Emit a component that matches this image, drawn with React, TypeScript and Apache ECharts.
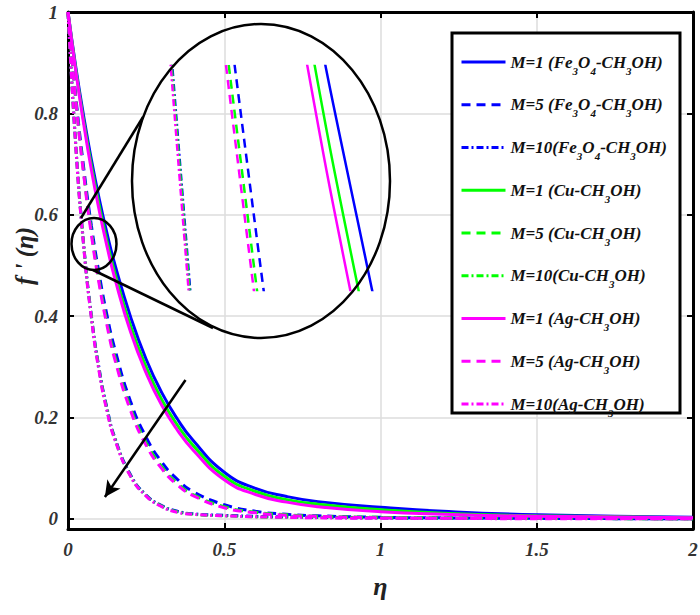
import React, { useEffect, useRef } from "react";
import * as echarts from "echarts";

// similarity variable eta (x axis)
const eta = [0, 0.025, 0.05, 0.075, 0.1, 0.125, 0.15, 0.2, 0.25, 0.3, 0.35, 0.4, 0.5, 0.6, 0.7, 0.8, 1.0, 1.2, 1.5, 2.0];

// f'(eta) values
const feM1 = [1, 0.891, 0.795, 0.708, 0.631, 0.563, 0.502, 0.399, 0.315, 0.249, 0.197, 0.155, 0.092, 0.06, 0.044, 0.034, 0.023, 0.015, 0.008, 0.003];
const feM5 = [1, 0.833, 0.694, 0.578, 0.482, 0.401, 0.335, 0.232, 0.161, 0.112, 0.078, 0.054, 0.028, 0.015, 0.009, 0.006, 0.003, 0.002, 0.001, 0];
const feM10 = [1, 0.737, 0.543, 0.4, 0.295, 0.218, 0.16, 0.087, 0.047, 0.026, 0.015, 0.01, 0.007, 0.005, 0.004, 0.003, 0.002, 0.001, 0.001, 0];
const cuM1 = [1, 0.886, 0.786, 0.697, 0.618, 0.547, 0.485, 0.381, 0.3, 0.235, 0.185, 0.145, 0.084, 0.054, 0.038, 0.029, 0.018, 0.011, 0.006, 0.002];
const cuM5 = [1, 0.827, 0.684, 0.566, 0.468, 0.387, 0.32, 0.219, 0.15, 0.103, 0.07, 0.048, 0.024, 0.013, 0.008, 0.005, 0.003, 0.002, 0.001, 0];
const cuM10 = [1, 0.735, 0.541, 0.398, 0.292, 0.215, 0.158, 0.085, 0.046, 0.025, 0.014, 0.009, 0.006, 0.004, 0.003, 0.003, 0.002, 0.001, 0.001, 0];
const agM1 = [1, 0.883, 0.78, 0.688, 0.608, 0.537, 0.474, 0.369, 0.288, 0.224, 0.175, 0.136, 0.077, 0.048, 0.033, 0.024, 0.014, 0.009, 0.005, 0.002];
const agM5 = [1, 0.824, 0.68, 0.56, 0.462, 0.381, 0.314, 0.214, 0.145, 0.099, 0.067, 0.046, 0.022, 0.012, 0.007, 0.005, 0.002, 0.001, 0.001, 0];
const agM10 = [1, 0.733, 0.538, 0.395, 0.289, 0.212, 0.156, 0.084, 0.045, 0.024, 0.013, 0.009, 0.006, 0.004, 0.003, 0.002, 0.001, 0.001, 0, 0];

const seriesNames = [
  "M=1 (Fe3O4-CH3OH)", "M=5 (Fe3O4-CH3OH)", "M=10(Fe3O4-CH3OH)",
  "M=1 (Cu-CH3OH)", "M=5 (Cu-CH3OH)", "M=10(Cu-CH3OH)",
  "M=1 (Ag-CH3OH)", "M=5 (Ag-CH3OH)", "M=10(Ag-CH3OH)",
];
const seriesValues = [feM1, feM5, feM10, cuM1, cuM5, cuM10, agM1, agM5, agM10];

const yTicks = [0, 0.2, 0.4, 0.6, 0.8, 1];
const yTitle = "f ' (η)";
const xTitle = "η";

// annotation arrow (data coordinates)
const arrowFrom = [0.376, 0.274];
const arrowTo = [0.118, 0.043];
// magnified window (data coordinates)
const insetEta = [0.027, 0.14];
const insetF = [0.545, 0.6];

const COLORS = ["#0000ff", "#00ff00", "#ff00ff"];
const DASHES: any[] = ["solid", [9, 6], [7, 3, 2, 3]];
const FONT = "Liberation Serif";

const richName = (n: string) =>
  n.replace("Fe3O4", "Fe{s|3}O{s|4}").replace("CH3OH", "CH{s|3}OH");

export default function App() {
  const ref = useRef<HTMLDivElement>(null);
  useEffect(() => {
    if (!ref.current) return;
    const chart = echarts.init(ref.current, null, { renderer: "svg" });

    const mkSeries = (inset: boolean) =>
      seriesNames.map((name, i) => {
        const color = COLORS[Math.floor(i / 3)];
        const type = DASHES[i % 3];
        const s: any = {
          name,
          type: "line",
          xAxisIndex: inset ? 2 : 0,
          yAxisIndex: inset ? 2 : 0,
          data: eta.map((x, j) => [x, seriesValues[i][j]]),
          symbol: "none",
          showSymbol: false,
          smooth: 0.5,
          clip: true,
          lineStyle: { color, width: inset ? 2.5 : 3, type },
          itemStyle: { color },
          emphasis: { disabled: true },
          z: 2,
        };
        if (!inset && i === 0) {
          s.markLine = {
            silent: true,
            symbol: ["none", "arrow"],
            symbolSize: [12, 16],
            label: { show: false },
            lineStyle: { color: "#000", width: 2.5, type: "solid" },
            data: [[{ coord: arrowFrom }, { coord: arrowTo }]],
            z: 6,
          };
        }
        return s;
      });

    const axisFont = { fontFamily: FONT, fontWeight: "bold", fontStyle: "italic", fontSize: 19, color: "#333" };

    chart.setOption({
      animation: false,
      backgroundColor: "#fff",
      grid: [
        { left: 68, right: 7, top: 12, bottom: 86, outerBoundsMode: "none", containLabel: false },
        { left: 140, top: 66, width: 250, height: 224, outerBoundsMode: "none", containLabel: false },
      ],
      xAxis: [
        {
          type: "value", gridIndex: 0, min: 0, max: 2, interval: 0.5,
          name: xTitle, nameLocation: "middle", nameGap: 44,
          nameTextStyle: { fontFamily: FONT, fontStyle: "italic", fontWeight: "bold", fontSize: 26, color: "#222" },
          axisLine: { onZero: false, lineStyle: { color: "#000", width: 3 } },
          axisTick: { inside: true, length: 6, lineStyle: { color: "#000", width: 2 } },
          axisLabel: { ...axisFont, margin: 11, formatter: (v: number) => String(v) },
          splitLine: { show: true, lineStyle: { color: "#dcdcdc", width: 1.5 } },
        },
        {
          type: "value", gridIndex: 0, position: "top", min: 0, max: 2, interval: 0.5,
          axisLine: { onZero: false, lineStyle: { color: "#000", width: 3 } },
          axisTick: { inside: true, length: 6, lineStyle: { color: "#000", width: 2 } },
          axisLabel: { show: false },
          splitLine: { show: false },
        },
        { type: "value", gridIndex: 1, min: insetEta[0], max: insetEta[1], show: false },
      ],
      yAxis: [
        {
          type: "value", gridIndex: 0, min: -0.02, max: 1,
          axisLine: { onZero: false, lineStyle: { color: "#000", width: 3 } },
          axisTick: { inside: true, length: 6, customValues: yTicks, lineStyle: { color: "#000", width: 2 } },
          axisLabel: { ...axisFont, margin: 10, customValues: yTicks, formatter: (v: number) => String(v) },
          splitLine: { show: true, lineStyle: { color: "#dcdcdc", width: 1.5 } },
        },
        {
          type: "value", gridIndex: 0, position: "right", min: -0.02, max: 1,
          axisLine: { onZero: false, lineStyle: { color: "#000", width: 3 } },
          axisTick: { inside: true, length: 6, customValues: yTicks, lineStyle: { color: "#000", width: 2 } },
          axisLabel: { show: false, customValues: yTicks },
          splitLine: { show: false },
        },
        { type: "value", gridIndex: 1, min: insetF[0], max: insetF[1], show: false },
      ],
      legend: {
        orient: "vertical",
        left: 455,
        top: 43,
        itemWidth: 44,
        itemHeight: 12,
        itemGap: 14.75,
        selectedMode: false,
        data: seriesNames,
        formatter: (n: string) => richName(n),
        itemStyle: { opacity: 0, color: "transparent", borderWidth: 0 },
        lineStyle: { width: 3 },
        textStyle: {
          fontFamily: FONT, fontWeight: "bold", fontStyle: "italic", fontSize: 17, color: "#111",
          lineHeight: 28,
          rich: {
            s: { fontFamily: FONT, fontWeight: "bold", fontStyle: "italic", fontSize: 11, color: "#111", lineHeight: 10, verticalAlign: "bottom" },
          },
        },
        z: 10,
      },
      graphic: [
        { type: "rect", z: 3, shape: { x: 452, y: 33, width: 228, height: 380 }, style: { fill: "#fff", stroke: "#000", lineWidth: 3 } },
        { type: "ellipse", z: 5, shape: { cx: 261, cy: 181, rx: 129, ry: 157 }, style: { fill: "none", stroke: "#000", lineWidth: 2.5 } },
        { type: "ellipse", z: 5, shape: { cx: 94, cy: 244, rx: 22.5, ry: 26 }, style: { fill: "none", stroke: "#000", lineWidth: 2.5 } },
        { type: "line", z: 5, shape: { x1: 81, y1: 218, x2: 143, y2: 117 }, style: { stroke: "#000", lineWidth: 2.5 } },
        { type: "line", z: 5, shape: { x1: 93, y1: 270, x2: 213, y2: 328 }, style: { stroke: "#000", lineWidth: 2.5 } },
        {
          type: "text", z: 5, x: 24, y: 256, rotation: Math.PI / 2,
          style: { text: yTitle, fontFamily: FONT, fontStyle: "italic", fontWeight: "bold", fontSize: 25, fill: "#222", align: "center", verticalAlign: "middle" },
        },
      ],
      series: [...mkSeries(false), ...mkSeries(true)],
    });
    return () => chart.dispose();
  }, []);
  return <div ref={ref} style={{ width: 700, height: 615, position: "absolute", left: 0, top: 0 }} />;
}
